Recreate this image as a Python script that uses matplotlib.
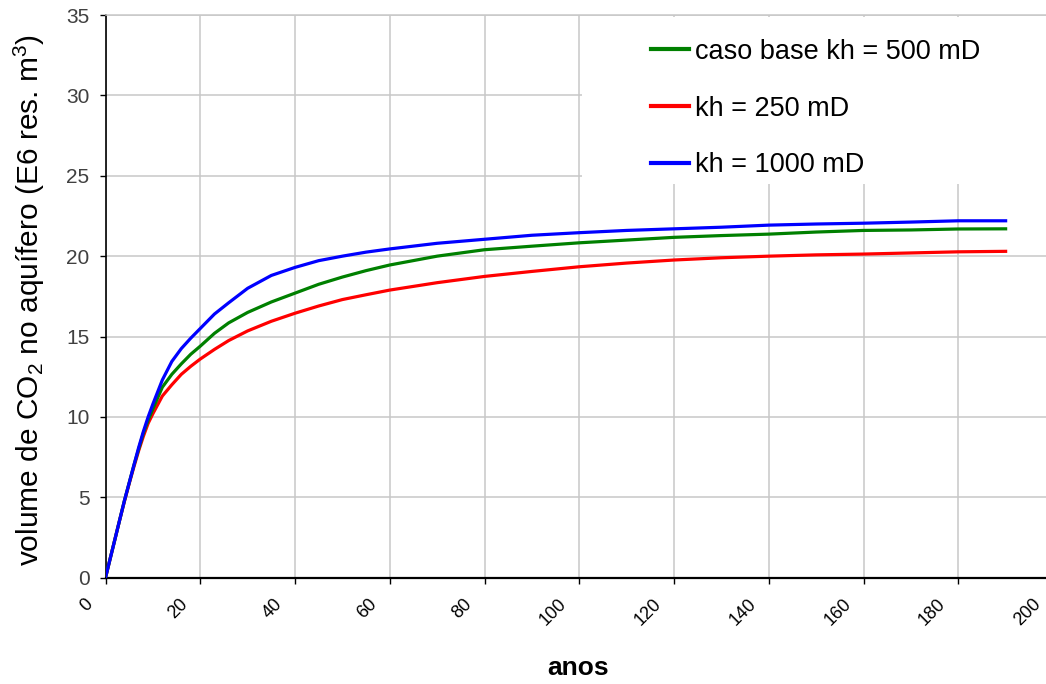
import matplotlib
matplotlib.use("Agg")
import matplotlib.pyplot as plt
from matplotlib.patches import Rectangle
from matplotlib.transforms import ScaledTranslation

plt.rcParams['font.family'] = ['Liberation Sans', 'DejaVu Sans']
plt.rcParams['mathtext.fontset'] = 'custom'
plt.rcParams['mathtext.rm'] = 'Liberation Sans'
plt.rcParams['mathtext.default'] = 'regular'

# ---- data ----
years = [0, 1, 2, 3, 4, 5, 6, 7, 8, 9, 10, 12, 14, 16, 18, 20, 23, 26, 30, 35,
         40, 45, 50, 55, 60, 70, 80, 90, 100, 110, 120, 130, 140, 150, 160, 170, 180, 190]

kh500 = [0, 1.2, 2.4, 3.6, 4.8, 5.9, 7.0, 8.0, 9.0, 9.8, 10.5, 11.85, 12.65, 13.3, 13.9, 14.4,
         15.2, 15.85, 16.5, 17.15, 17.7, 18.25, 18.7, 19.1, 19.45, 20.0, 20.4, 20.62, 20.83,
         21.0, 21.17, 21.28, 21.37, 21.5, 21.6, 21.63, 21.69, 21.7]

kh250 = [0, 1.2, 2.4, 3.6, 4.75, 5.85, 6.9, 7.9, 8.8, 9.6, 10.2, 11.3, 12.0, 12.65, 13.15, 13.6,
         14.2, 14.75, 15.35, 15.95, 16.45, 16.9, 17.3, 17.6, 17.89, 18.35, 18.74, 19.05, 19.34,
         19.57, 19.76, 19.9, 20.0, 20.08, 20.13, 20.2, 20.27, 20.3]

kh1000 = [0, 1.2, 2.4, 3.6, 4.8, 5.9, 7.0, 8.1, 9.1, 10.0, 10.8, 12.3, 13.45, 14.25, 14.9, 15.5,
          16.4, 17.1, 18.0, 18.8, 19.3, 19.72, 20.0, 20.25, 20.45, 20.8, 21.05, 21.3, 21.46,
          21.6, 21.7, 21.8, 21.93, 22.0, 22.05, 22.12, 22.2, 22.2]

labels = ['caso base kh = 500 mD', 'kh = 250 mD', 'kh = 1000 mD']
colors = ['#008000', '#ff0000', '#0000ff']
xticks = list(range(0, 201, 20))
yticks = list(range(0, 36, 5))

# ---- figure ----
W, H = 1046, 684
fig = plt.figure(figsize=(W / 100, H / 100), dpi=100)
x0, x1 = 105.5, 1053.0
y0, y1 = 577.7, 15.0
ax = fig.add_axes([x0 / W, (H - y0) / H, (x1 - x0) / W, (y0 - y1) / H])

lr, = ax.plot(years, kh250, color=colors[1], lw=2.3, zorder=2)
lg, = ax.plot(years, kh500, color=colors[0], lw=2.3, zorder=3)
lb, = ax.plot(years, kh1000, color=colors[2], lw=2.3, zorder=4)

ax.set_xlim(0, 200)
ax.set_ylim(0, 35)
ax.set_xticks(xticks)
ax.set_yticks(yticks)
ax.set_xticklabels([str(t) for t in xticks], rotation=45, ha='right', va='top', fontsize=13)
ax.set_yticklabels([str(t) for t in yticks], fontsize=15, color='#404040')

ax.set_axisbelow(True)
ax.grid(True, color='#c8c8c8', lw=1.1)
ax.tick_params(axis='y', direction='out', length=4.5, width=1.0, pad=7, color='black')
ax.tick_params(axis='x', direction='out', length=4, width=1.0, pad=9, color='black')

shift = ScaledTranslation(-0.09, 0, fig.dpi_scale_trans)
for lab in ax.get_xticklabels():
    lab.set_transform(lab.get_transform() + shift)

ax.spines['left'].set_color('black')
ax.spines['left'].set_linewidth(1.2)
ax.spines['bottom'].set_color('black')
ax.spines['bottom'].set_linewidth(1.6)
ax.spines['top'].set_color('#c8c8c8')
ax.spines['top'].set_linewidth(1.1)
ax.spines['right'].set_visible(False)

ax.set_ylabel('volume de CO$_2$ no aquífero (E6 res. m$^3$)', fontsize=21.5)
ax.yaxis.set_label_coords(-0.062, 0.4935)
ax.set_xlabel('anos', fontsize=19, fontweight='bold')
ax.xaxis.set_label_coords(0.4987, -0.14)

# white legend background
ax.add_patch(Rectangle((0.503, 0.6997), 0.6, 0.297, transform=ax.transAxes,
                       facecolor='white', edgecolor='none', zorder=1.5))

leg = ax.legend([lg, lr, lb], labels, loc='upper left', bbox_to_anchor=(0.5754, 0.958),
                frameon=False, borderpad=0, borderaxespad=0, handlelength=1.4,
                handletextpad=0.22, labelspacing=1.14, fontsize=19.5)
for h in leg.legend_handles:
    h.set_linewidth(3)

fig.savefig('out.png', dpi=100)
